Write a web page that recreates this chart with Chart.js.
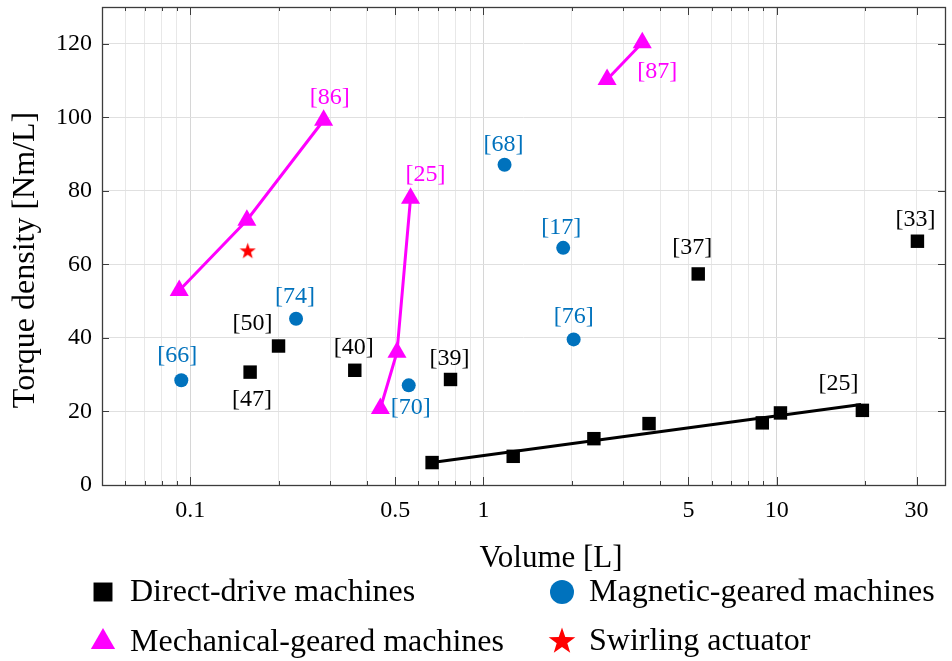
<!DOCTYPE html>
<html>
<head>
<meta charset="utf-8">
<script src="https://cdn.jsdelivr.net/npm/chart.js@4.4.1/dist/chart.umd.min.js"></script>
<style>
  html, body { margin: 0; padding: 0; background: #fff; }
  #wrap { width: 952px; height: 661px; }
</style>
</head>
<body>
<div id="wrap"><canvas id="torqueChart" width="952" height="661"></canvas></div>
<script>
// Direct-drive machines (volume [L], torque density [Nm/L])
const directX = [0.160, 0.200, 0.364, 0.772, 5.40, 30.2, 0.668, 1.263, 2.38, 3.67, 8.93, 10.3, 19.6];
const directY = [30.7, 37.8, 31.2, 28.7, 57.4, 66.3, 6.1, 7.8, 12.6, 16.7, 16.9, 19.6, 20.3];

// fitted trend for the [25] family
const fitX = [0.668, 19.4];
const fitY = [6.1, 21.9];

// Magnetic-geared machines
const magneticX = [0.0932, 0.2295, 0.556, 2.03, 1.18, 1.87];
const magneticY = [28.5, 45.2, 27.1, 39.6, 87.1, 64.5];

// Mechanical-geared machines, one list per reference
const mech86X = [0.0917, 0.156, 0.285];
const mech86Y = [52.9, 72.0, 99.2];
const mech25X = [0.445, 0.507, 0.564];
const mech25Y = [20.8, 36.1, 78.0];
const mech87X = [2.64, 3.48];
const mech87Y = [110.3, 120.3];

// Swirling actuator
const swirlX = [0.157];
const swirlY = [63.7];

// axis ticks
const xTickValues = [0.05, 0.06, 0.07, 0.08, 0.09, 0.1, 0.2, 0.3, 0.4, 0.5, 0.6, 0.7, 0.8, 0.9,
  1, 2, 3, 4, 5, 6, 7, 8, 9, 10, 20, 30];
const xTickLabels = [0.1, 0.5, 1, 5, 10, 30];
const xMajorGrid = [0.1, 1, 10];
const yTickValues = [0, 20, 40, 60, 80, 100, 120];

const BLACK = '#000000';
const BLUE = '#0072BD';
const MAGENTA = '#FF00FF';
const RED = '#FF0000';
const SERIF = '"Liberation Serif", "Times New Roman", serif';

const toPoints = (xs, ys) => xs.map((v, i) => ({ x: v, y: ys[i] }));

function makeStar(size, color) {
  const c = document.createElement('canvas');
  c.width = size; c.height = size;
  const g = c.getContext('2d');
  g.fillStyle = color;
  g.beginPath();
  for (let i = 0; i < 10; i++) {
    const r = i % 2 ? size * 0.2 : size * 0.5;
    const a = -Math.PI / 2 + i * Math.PI / 5;
    g.lineTo(size / 2 + r * Math.cos(a), size / 2 + 0.5 + r * Math.sin(a));
  }
  g.closePath();
  g.fill();
  return c;
}
const starSmall = makeStar(17, RED);
const starBig = makeStar(28, RED);

// reference tags: dataset index, point index, text, colour, pixel offset
const refTags = [
  { ds: 0, i: 0, text: '[47]', color: BLACK, dx: 2, dy: 28 },
  { ds: 0, i: 1, text: '[50]', color: BLACK, dx: -26, dy: -22 },
  { ds: 0, i: 2, text: '[40]', color: BLACK, dx: -1, dy: -23 },
  { ds: 0, i: 3, text: '[39]', color: BLACK, dx: -1, dy: -21 },
  { ds: 0, i: 4, text: '[37]', color: BLACK, dx: -6, dy: -26 },
  { ds: 0, i: 5, text: '[33]', color: BLACK, dx: -2, dy: -22 },
  { ds: 0, i: 12, text: '[25]', color: BLACK, dx: -24, dy: -27 },
  { ds: 1, i: 0, text: '[66]', color: BLUE, dx: -4, dy: -25 },
  { ds: 1, i: 1, text: '[74]', color: BLUE, dx: -1, dy: -22 },
  { ds: 1, i: 2, text: '[70]', color: BLUE, dx: 2, dy: 22 },
  { ds: 1, i: 3, text: '[76]', color: BLUE, dx: 0, dy: -23 },
  { ds: 1, i: 4, text: '[68]', color: BLUE, dx: -1, dy: -20 },
  { ds: 1, i: 5, text: '[17]', color: BLUE, dx: -2, dy: -20 },
  { ds: 2, i: 2, text: '[86]', color: MAGENTA, dx: 6, dy: -23 },
  { ds: 3, i: 2, text: '[25]', color: MAGENTA, dx: 15, dy: -23 },
  { ds: 4, i: 1, text: '[87]', color: MAGENTA, dx: 15, dy: 29 }
];

const legendItems = [
  { text: 'Direct-drive machines', style: 'rect', radius: 13.4, color: BLACK, x: 103, y: 592 },
  { text: 'Magnetic-geared machines', style: 'circle', radius: 12, color: BLUE, x: 562, y: 592 },
  { text: 'Mechanical-geared machines', style: 'triangle', radius: 14, color: MAGENTA, x: 103, y: 642 },
  { text: 'Swirling actuator', style: starBig, radius: 14, color: RED, x: 562, y: 641 }
];

const overlay = {
  id: 'overlay',
  beforeDatasetsDraw(chart) {
    const { ctx, chartArea: a, scales: { x, y } } = chart;
    ctx.save();
    ctx.strokeStyle = '#3c3c3c';
    ctx.lineWidth = 1;
    ctx.beginPath();
    xTickValues.forEach(v => {
      const px = Math.round(x.getPixelForValue(v)) + 0.5;
      const len = xTickLabels.includes(v) ? 8 : 4;
      ctx.moveTo(px, a.top); ctx.lineTo(px, a.top + len);
      ctx.moveTo(px, a.bottom); ctx.lineTo(px, a.bottom - len);
    });
    yTickValues.forEach(v => {
      const py = Math.round(y.getPixelForValue(v)) + 0.5;
      ctx.moveTo(a.left, py); ctx.lineTo(a.left + 7, py);
      ctx.moveTo(a.right, py); ctx.lineTo(a.right - 7, py);
    });
    ctx.stroke();
    ctx.lineWidth = 1.3;
    ctx.strokeRect(a.left + 0.5, a.top + 0.5, a.right - a.left, a.bottom - a.top);
    ctx.restore();
  },
  afterDatasetsDraw(chart) {
    const ctx = chart.ctx;
    ctx.save();
    ctx.font = '24px ' + SERIF;
    ctx.textAlign = 'center';
    ctx.textBaseline = 'middle';
    refTags.forEach(t => {
      const pt = chart.getDatasetMeta(t.ds).data[t.i];
      ctx.fillStyle = t.color;
      ctx.fillText(t.text, pt.x + t.dx, pt.y + t.dy);
    });

    // axis titles
    ctx.fillStyle = '#000';
    ctx.font = '31px ' + SERIF;
    ctx.textBaseline = 'alphabetic';
    ctx.fillText('Volume [L]', 551, 567);
    ctx.save();
    ctx.translate(34, 260);
    ctx.rotate(-Math.PI / 2);
    ctx.font = '32px ' + SERIF;
    ctx.fillText('Torque density [Nm/L]', 0, 0);
    ctx.restore();

    // legend
    ctx.font = '32px ' + SERIF;
    ctx.textAlign = 'left';
    ctx.textBaseline = 'middle';
    legendItems.forEach(it => {
      ctx.fillStyle = it.color;
      Chart.helpers.drawPoint(ctx, { pointStyle: it.style, radius: it.radius, rotation: 0, borderWidth: 0 }, it.x, it.y);
      ctx.fillStyle = '#000';
      ctx.fillText(it.text, it.x + 27, it.y + 1);
    });
    ctx.restore();
  }
};

const mechStyle = {
  showLine: true,
  borderColor: MAGENTA,
  borderWidth: 3,
  backgroundColor: MAGENTA,
  pointStyle: 'triangle',
  pointRadius: 11,
  pointBorderWidth: 0
};

const noEdgePadding = scale => {
  scale.paddingTop = 0;
  scale.paddingBottom = 0;
  scale.paddingLeft = 0;
  scale.paddingRight = 0;
};

new Chart(document.getElementById('torqueChart'), {
  type: 'scatter',
  data: {
    datasets: [
      { label: 'Direct-drive machines', data: toPoints(directX, directY), pointStyle: 'rect',
        pointRadius: 9.5, backgroundColor: BLACK, pointBorderWidth: 0 },
      { label: 'Magnetic-geared machines', data: toPoints(magneticX, magneticY), pointStyle: 'circle',
        pointRadius: 7, backgroundColor: BLUE, pointBorderWidth: 0 },
      Object.assign({ label: 'Mechanical-geared machines', data: toPoints(mech86X, mech86Y) }, mechStyle),
      Object.assign({ label: 'Mechanical-geared [25]', data: toPoints(mech25X, mech25Y) }, mechStyle),
      Object.assign({ label: 'Mechanical-geared [87]', data: toPoints(mech87X, mech87Y) }, mechStyle),
      { label: 'Swirling actuator', data: toPoints(swirlX, swirlY), pointStyle: starSmall, pointRadius: 8 },
      { label: 'Direct-drive trend', data: toPoints(fitX, fitY), showLine: true, borderColor: BLACK,
        borderWidth: 3, pointRadius: 0 }
    ]
  },
  options: {
    responsive: false,
    animation: false,
    events: [],
    layout: { autoPadding: false, padding: { top: 7, right: 7, left: 0, bottom: 0 } },
    plugins: { legend: { display: false }, tooltip: { enabled: false } },
    scales: {
      x: {
        type: 'logarithmic',
        min: 0.05,
        max: 37.5,
        afterBuildTicks: scale => { scale.ticks = xTickValues.map(v => ({ value: v })); },
        afterFit: scale => { scale.height = 176; noEdgePadding(scale); },
        grid: {
          drawTicks: false,
          color: c => (c.tick && xMajorGrid.includes(c.tick.value)) ? '#d6d6d6' : '#e8e8e8',
          lineWidth: 1
        },
        border: { display: false },
        ticks: {
          autoSkip: false,
          maxRotation: 0,
          padding: 11,
          color: '#000',
          font: { family: SERIF, size: 24 },
          callback: v => xTickLabels.includes(v) ? String(v) : ''
        }
      },
      y: {
        min: 0,
        max: 130,
        afterBuildTicks: scale => { scale.ticks = yTickValues.map(v => ({ value: v })); },
        afterFit: scale => { scale.width = 102; noEdgePadding(scale); },
        grid: { drawTicks: false, color: '#e0e0e0', lineWidth: 1 },
        border: { display: false },
        ticks: {
          padding: 10,
          color: '#000',
          font: { family: SERIF, size: 24 }
        }
      }
    }
  },
  plugins: [overlay]
});
</script>
</body>
</html>
